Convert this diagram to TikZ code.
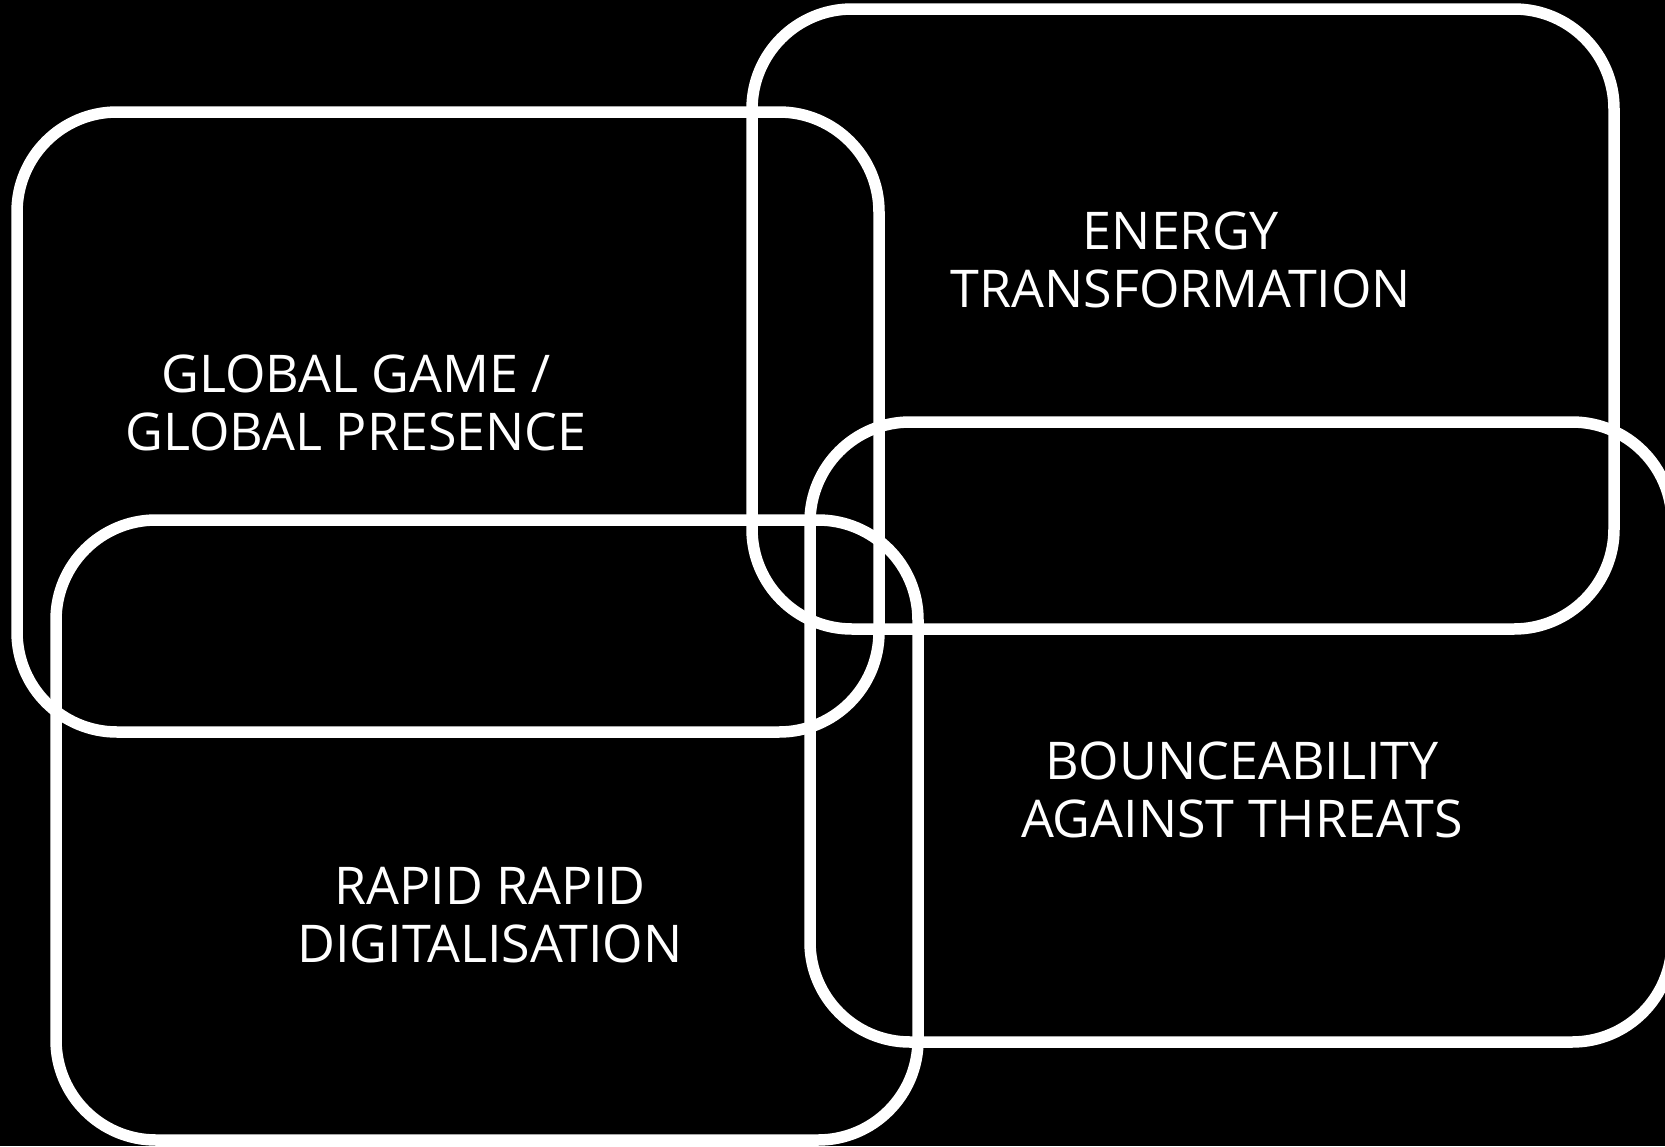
\documentclass[tikz,border=0pt]{standalone}
\usepackage{fontspec}
\setmainfont{Open Sans}
\begin{document}
\begin{tikzpicture}[x=1pt,y=-1pt,
  panel/.style={draw=white, line width=11.5pt, rounded corners=100pt,
    minimum width=862pt, minimum height=620pt, inner sep=0pt, outer sep=0pt},
  label/.style={text=white, align=center, anchor=base, inner sep=0pt,
    font=\fontsize{52pt}{58pt}\selectfont}]
  % black page
  \fill[black] (0,0) rectangle (1665,1146);
  \useasboundingbox (0,0) rectangle (1665,1146);
  % four overlapping rounded panels
  \node[panel] (global) at (448,422) {};
  \node[panel] (energy) at (1183,319) {};
  \node[panel] (digital) at (487,830) {};
  \node[panel] (bounce) at (1241,732) {};
  % panel captions (anchored on the baseline of the second line)
  \node[label] (tglobal) at (356,450) {GLOBAL GAME /\\GLOBAL PRESENCE};
  \node[label] (tenergy) at (1181,307) {ENERGY\\TRANSFORMATION};
  \node[label] (tbounce) at (1242,837) {BOUNCEABILITY\\AGAINST THREATS};
  \node[label] (tdigital) at (490,962) {RAPID RAPID\\DIGITALISATION};
\end{tikzpicture}
\end{document}
